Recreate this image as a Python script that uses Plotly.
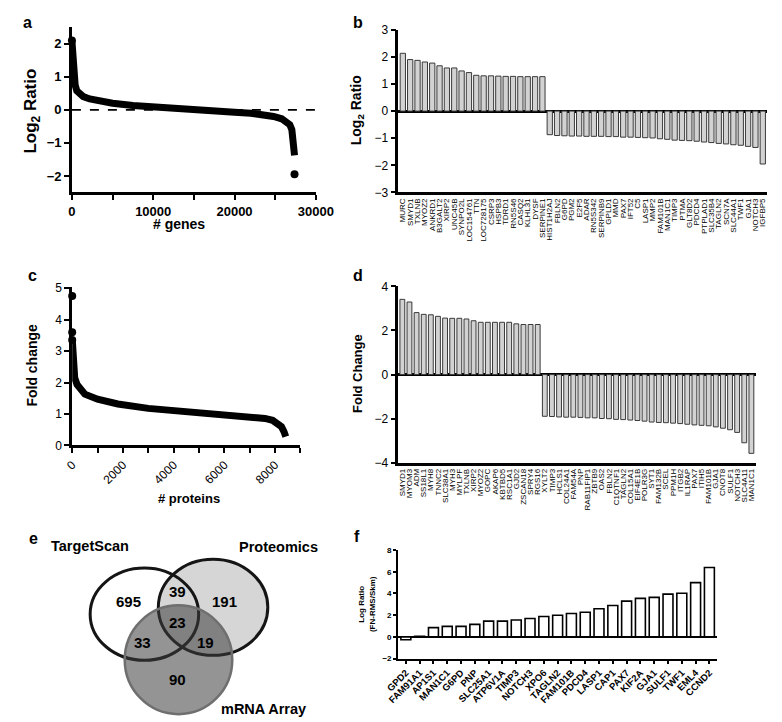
import plotly.graph_objects as go

# ---------------- data ----------------
# panel a: ranked log2 ratios
a_rank = [0, 40, 100, 180, 280, 400, 600, 900, 1400, 2200, 3500, 5000, 7500, 10000,
          12500, 15000, 17500, 20000, 22000, 23500, 24800, 25800, 26400, 26800,
          27050, 27200, 27300, 27380]
a_log2 = [2.1, 1.85, 1.5, 1.2, 0.95, 0.75, 0.58, 0.48, 0.4, 0.33, 0.26, 0.2, 0.13, 0.08,
          0.04, 0.0, -0.03, -0.07, -0.1, -0.14, -0.2, -0.27, -0.35, -0.45,
          -0.6, -0.85, -1.1, -1.38]
a_out_rank = [0, 27380]
a_out_val = [2.1, -1.95]
a_ticks = [0, 10000, 20000, 30000]

# panel b
b_genes = ["MURC", "SMYD1", "TXLNB", "MYOZ2", "ANKRD1", "B3GALT2", "XIRP2", "UNC45B",
           "SYNPO2L", "LOC154761", "TTN", "LOC728175", "CSRP3", "HSPB3", "TDRD1",
           "RN5S46", "CASQ2", "KLHL31", "DYSF", "SERPINE1", "HIST1H2AJ", "FBLN2",
           "G6PD", "PGM2", "E2F5", "ADAR", "RN5S342", "SERPINB9", "GPLD1", "MMD",
           "PAX7", "IFT52", "C5", "LASP1", "MMP2", "FAM101B", "MAN1C1", "TIMP3",
           "PTMA", "GLT8D2", "PDCD4", "PTPLAD1", "SLC35B4", "TAGLN2", "SCN7A",
           "SLC44A1", "TWF1", "GJA1", "NOTCH3", "IGFBP5"]
b_log2 = [2.13, 1.9, 1.87, 1.81, 1.77, 1.67, 1.59, 1.59, 1.48, 1.42, 1.32, 1.3, 1.3,
          1.29, 1.28, 1.28, 1.27, 1.27, 1.27, 1.27,
          -0.87, -0.9, -0.91, -0.92, -0.92, -0.93, -0.93, -0.93, -0.94, -0.94,
          -0.96, -0.96, -0.97, -0.98, -0.99, -1.02, -1.04, -1.07, -1.08, -1.09,
          -1.11, -1.14, -1.16, -1.19, -1.21, -1.24, -1.26, -1.30, -1.34, -1.95]

# panel c: ranked fold changes
c_rank = [0, 20, 50, 100, 190, 300, 500, 1000, 1800, 3000, 4000, 5000, 6000, 7000,
          7600, 7900, 8100, 8250, 8350, 8420]
c_fold = [3.4, 2.9, 2.5, 2.15, 1.94, 1.8, 1.63, 1.47, 1.32, 1.18, 1.11, 1.06, 1.0, 0.92,
          0.86, 0.8, 0.72, 0.6, 0.44, 0.28]
c_out_rank = [0, 0, 0]
c_out_val = [4.75, 3.6, 3.35]
c_ticks = [0, 2000, 4000, 6000, 8000]

# panel d
d_genes = ["SMYD1", "MYOM3", "ADM", "SS18L1", "MYH8", "TNNC2", "SLC38A1", "MYH3",
           "MYLPF", "TXLNB", "XIRP2", "MYOZ2", "GOPC", "AKAP6", "KBTBD5", "RSC1A1",
           "GJD2", "ZSCAN18", "SPRY4", "RGS16", "XYLT2", "TIMP3", "HCLS1", "COL24A1",
           "FAM54A", "PNP", "RAB11FIP1", "ZBTB9", "OAS2", "FBLN2", "C1QTNF1", "TAGLN2",
           "COL15A1", "EIF4E1B", "POLR3G", "SYT1", "FAM132B", "SCEL", "PPM1H", "ITGB2",
           "IL1RAP", "PAX7", "ITIH5", "FAM101B", "GJA1", "CNOT8", "SULF1", "NOTCH3",
           "SLC4A11", "MAN1C1"]
d_fold = [3.41, 3.29, 2.81, 2.73, 2.71, 2.64, 2.56, 2.55, 2.55, 2.52, 2.44, 2.37, 2.37,
          2.37, 2.37, 2.37, 2.30, 2.27, 2.27, 2.27,
          -1.89, -1.9, -1.92, -1.93, -1.93, -1.94, -1.96, -1.96, -1.99, -2.0,
          -2.03, -2.04, -2.06, -2.08, -2.11, -2.15, -2.17, -2.18, -2.2, -2.22,
          -2.25, -2.28, -2.30, -2.32, -2.37, -2.43, -2.50, -2.62, -3.09, -3.57]

# panel e: Venn counts
venn_sets = ["TargetScan", "Proteomics", "mRNA Array"]
venn_regions = ["TargetScan only", "TargetScan&Proteomics", "Proteomics only", "all",
                "TargetScan&mRNA", "Proteomics&mRNA", "mRNA only"]
venn_counts = [695, 39, 191, 23, 33, 19, 90]

# panel f
f_genes = ["GPD2", "FAM91A1", "AP1S1", "MAN1C1", "G6PD", "PNP", "SLC25A1", "ATP6V1A",
           "TIMP3", "NOTCH3", "XPO6", "TAGLN2", "FAM101B", "PDCD4", "LASP1", "CAP1",
           "PAX7", "KIF2A", "GJA1", "SULF1", "TWF1", "EML4", "CCND2"]
f_ratio = [-0.27, 0.05, 0.85, 0.97, 0.97, 1.15, 1.45, 1.45, 1.55, 1.7, 1.88, 2.0, 2.15,
           2.27, 2.6, 2.9, 3.3, 3.55, 3.64, 3.94, 4.03, 5.0, 6.4]

# ---------------- layout helpers ----------------
W, H = 782, 722
FONT = "Liberation Sans, Arial, sans-serif"


def px(x):
    return x / W


def py(y):
    return 1 - y / H


fig = go.Figure()

# panel a
fig.add_trace(go.Scatter(x=a_rank, y=a_log2, mode="lines", line=dict(color="black", width=7),
                         xaxis="x", yaxis="y", cliponaxis=False, showlegend=False))
fig.add_trace(go.Scatter(x=a_out_rank, y=a_out_val, mode="markers",
                         marker=dict(color="black", size=8), xaxis="x", yaxis="y",
                         cliponaxis=False, showlegend=False))
# panel b
fig.add_trace(go.Bar(x=b_genes, y=b_log2, width=0.72, xaxis="x2", yaxis="y2",
                     marker=dict(color="#d2d2d2", line=dict(color="#3a3a3a", width=1)),
                     showlegend=False))
# panel c
fig.add_trace(go.Scatter(x=c_rank, y=c_fold, mode="lines", line=dict(color="black", width=7),
                         xaxis="x3", yaxis="y3", cliponaxis=False, showlegend=False))
fig.add_trace(go.Scatter(x=c_out_rank, y=c_out_val, mode="markers",
                         marker=dict(color="black", size=8), xaxis="x3", yaxis="y3",
                         cliponaxis=False, showlegend=False))
# panel d
fig.add_trace(go.Bar(x=d_genes, y=d_fold, width=0.68, xaxis="x4", yaxis="y4",
                     marker=dict(color="#d2d2d2", line=dict(color="#3a3a3a", width=1)),
                     showlegend=False))
# panel f
fig.add_trace(go.Bar(x=f_genes, y=f_ratio, width=0.72, xaxis="x5", yaxis="y5",
                     marker=dict(color="white", line=dict(color="black", width=1.6)),
                     showlegend=False))

common = dict(showgrid=False, showline=True, linecolor="black", color="black",
              ticks="outside", tickcolor="black")

fig.update_layout(
    width=W, height=H, margin=dict(l=0, r=0, t=0, b=0),
    paper_bgcolor="white", plot_bgcolor="white",
    font=dict(family=FONT, color="black"),
    # a
    xaxis=dict(**common, domain=[px(53), px(307)], range=[0, 30000], anchor="y",
               tickmode="array", tickvals=a_ticks, ticktext=[str(v) for v in a_ticks],
               ticklen=5, tickwidth=2, linewidth=2.5,
               zeroline=False, tickfont=dict(size=13, weight="bold"),
               minor=dict(dtick=5000, tick0=0, ticks="outside", ticklen=5, tickwidth=2,
                          tickcolor="black")),
    yaxis=dict(**common, domain=[py(181), py(12.5)], range=[-2.5, 2.5], anchor="x",
               tickvals=[-2, -1, 0, 1, 2], ticklen=5, tickwidth=2, linewidth=2.5,
               zeroline=False, tickfont=dict(size=13, weight="bold")),
    # b
    xaxis2=dict(showgrid=False, showline=True, linecolor="black", linewidth=2.5,
                domain=[px(393), px(777)], range=[-0.6, 49.6], anchor="y2",
                type="category", tickmode="array", tickvals=b_genes, ticktext=b_genes,
                tickangle=-90, ticks="", tickfont=dict(size=8, color="black")),
    yaxis2=dict(**common, domain=[py(181), py(15)], range=[-3, 3], anchor="x2",
                dtick=1, ticklen=5, tickwidth=2, linewidth=2.5,
                zeroline=True, zerolinecolor="black", zerolinewidth=2.5,
                tickfont=dict(size=12)),
    # c
    xaxis3=dict(**common, domain=[px(53.3), px(291)], range=[0, 9000], anchor="y3",
                tickmode="array", tickvals=c_ticks, ticktext=[str(v) for v in c_ticks],
                tickangle=-45, ticklen=5,
                tickwidth=2, linewidth=2.5, zeroline=False, tickfont=dict(size=12),
                minor=dict(dtick=1000, tick0=0, ticks="outside", ticklen=5, tickwidth=2,
                           tickcolor="black")),
    yaxis3=dict(**common, domain=[py(439), py(277)], range=[0, 5.05], anchor="x3",
                tickvals=[0, 1, 2, 3, 4, 5], ticklen=5, tickwidth=2, linewidth=2.5,
                zeroline=False, tickfont=dict(size=12)),
    # d
    xaxis4=dict(showgrid=False, showline=True, linecolor="black", linewidth=2.5,
                domain=[px(393), px(765)], range=[-0.55, 49.6], anchor="y4",
                type="category", tickmode="array", tickvals=d_genes, ticktext=d_genes,
                tickangle=-90, ticks="", tickfont=dict(size=8, color="black")),
    yaxis4=dict(**common, domain=[py(456.7), py(276.7)], range=[-4, 4], anchor="x4",
                dtick=2, ticklen=5, tickwidth=2, linewidth=2.5,
                zeroline=True, zerolinecolor="black", zerolinewidth=2.5,
                tickfont=dict(size=12)),
    # f
    xaxis5=dict(**common, domain=[px(392.7), px(725)], range=[-0.56, 22.57], anchor="y5",
                type="category", tickmode="array", tickvals=f_genes, ticktext=f_genes,
                tickangle=-45, ticklen=3, tickwidth=1.5, linewidth=2,
                tickfont=dict(size=9.5, weight="bold")),
    yaxis5=dict(**common, domain=[py(656.3), py(545.7)], range=[-2, 8], anchor="x5",
                dtick=2, ticklen=3, tickwidth=1.5, linewidth=2,
                zeroline=True, zerolinecolor="black", zerolinewidth=2,
                tickfont=dict(size=8, weight="bold")),
)

# dashed zero line in panel a
fig.add_shape(type="line", xref="x domain", yref="y", x0=0, x1=1, y0=0, y1=0,
              line=dict(color="black", width=1.8, dash="dash"))

# Venn diagram (panel e)
fig.add_shape(type="circle", xref="paper", yref="paper",
              x0=px(143), x1=px(257), y0=py(653), y1=py(555),
              fillcolor="#d6d6d6", line=dict(color="#151515", width=3))
fig.add_shape(type="circle", xref="paper", yref="paper",
              x0=px(72), x1=px(185), y0=py(658), y1=py(564),
              fillcolor="rgba(0,0,0,0)", line=dict(color="#151515", width=3))
fig.add_shape(type="circle", xref="paper", yref="paper",
              x0=px(108), x1=px(220), y0=py(713), y1=py(602),
              fillcolor="rgba(60,60,60,0.55)", line=dict(color="#6f6f6f", width=2.5))

ann = []


def add_text(text, x, y, size, bold=True, angle=0):
    t = f"<b>{text}</b>" if bold else text
    ann.append(dict(text=t, x=px(x), y=py(y), xref="paper", yref="paper",
                    showarrow=False, textangle=angle, xanchor="center", yanchor="middle",
                    font=dict(size=size, family=FONT, color="black")))


# panel letters
add_text("a", 7, 8, 16)
add_text("b", 351, 8, 16)
add_text("c", 12, 266, 16)
add_text("d", 351, 266, 16)
add_text("e", 13, 534, 16)
add_text("f", 350, 532, 16)

# axis titles
add_text("Log<sub>2</sub> Ratio", 12, 98, 17, angle=-90)
add_text("# genes", 165, 213, 14)
add_text("Log<sub>2</sub> Ratio", 350, 97, 14, angle=-90)
add_text("Fold change", 12, 357, 14, angle=-90)
add_text("# proteins", 175, 493, 13)
add_text("Fold Change", 351, 366, 13, angle=-90)
add_text("Log Ratio<br>(FN-RMS/Skm)", 360, 601, 8, angle=-90)

# Venn set labels
add_text(venn_sets[0], 72, 542, 14.5)
add_text(venn_sets[1], 268, 543, 14.5)
add_text(venn_sets[2], 252, 708, 14.5)

venn_pos = [(112, 598), (163, 588), (212, 598), (163, 620), (127, 640), (192, 640),
            (163, 678)]
for (vx, vy), cnt in zip(venn_pos, venn_counts):
    add_text(str(cnt), vx, vy, 15)

fig.update_layout(annotations=ann)

fig.write_html("out.html")
